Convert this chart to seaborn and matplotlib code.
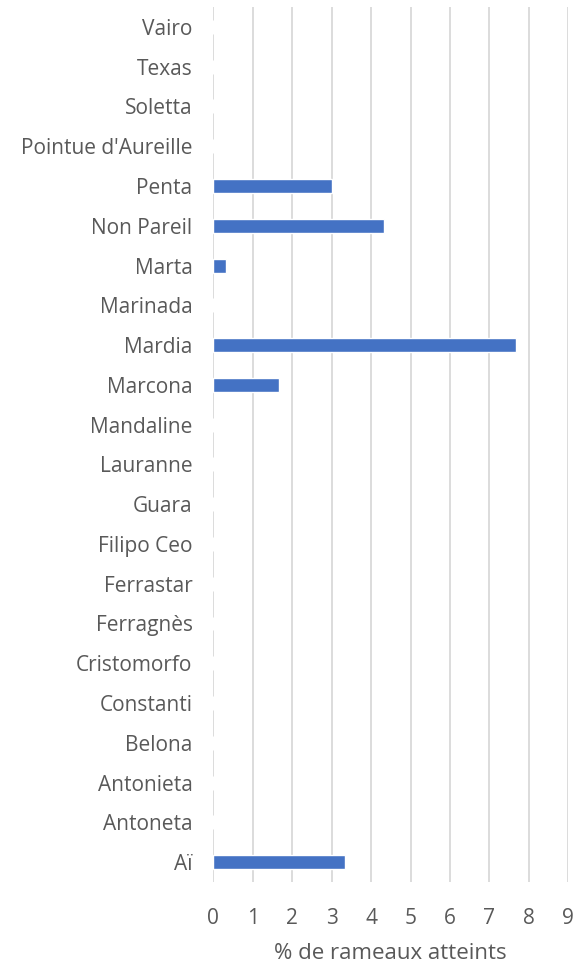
import matplotlib
matplotlib.use('Agg')
import matplotlib.pyplot as plt
import seaborn as sns
import pandas as pd

## Chart data (top to bottom)
varieties = ['Vairo', 'Texas', 'Soletta', "Pointue d'Aureille", 'Penta',
             'Non Pareil', 'Marta', 'Marinada', 'Mardia', 'Marcona',
             'Mandaline', 'Lauranne', 'Guara', 'Filipo Ceo', 'Ferrastar',
             'Ferragnès', 'Cristomorfo', 'Constanti', 'Belona', 'Antonieta',
             'Antoneta', 'Aï']
pct = [0, 0, 0, 0, 3.0,
       4.33, 0.33, 0, 7.67, 1.67,
       0, 0, 0, 0, 0,
       0, 0, 0, 0, 0,
       0, 3.33]
xticks = list(range(10))

sns.set_style('white')
plt.rcParams['font.family'] = ['Open Sans', 'DejaVu Sans']

df = pd.DataFrame({'variety': varieties, 'pct': pct})

fig = plt.figure(figsize=(5.74, 9.63), dpi=100)
ax = fig.add_axes([0.3717, 0.0841, 0.6183, 0.9086])

sns.barplot(data=df, x='pct', y='variety', order=varieties, color='#4472C4',
            saturation=1, width=0.35, ax=ax)

ax.set_xlim(0, 9)
ax.set_xticks(xticks)
ax.grid(axis='x', color='#d9d9d9', linewidth=1.3)
ax.set_axisbelow(True)
for s in ax.spines.values():
    s.set_visible(False)

ax.tick_params(axis='y', length=0, labelsize=15, colors='#595959', pad=15)
ax.tick_params(axis='x', length=0, labelsize=15, colors='#595959', pad=19)
ax.set_ylabel('')
ax.set_xlabel('% de rameaux atteints', fontsize=16, color='#595959', labelpad=10)

fig.savefig('out.png', dpi=100)
